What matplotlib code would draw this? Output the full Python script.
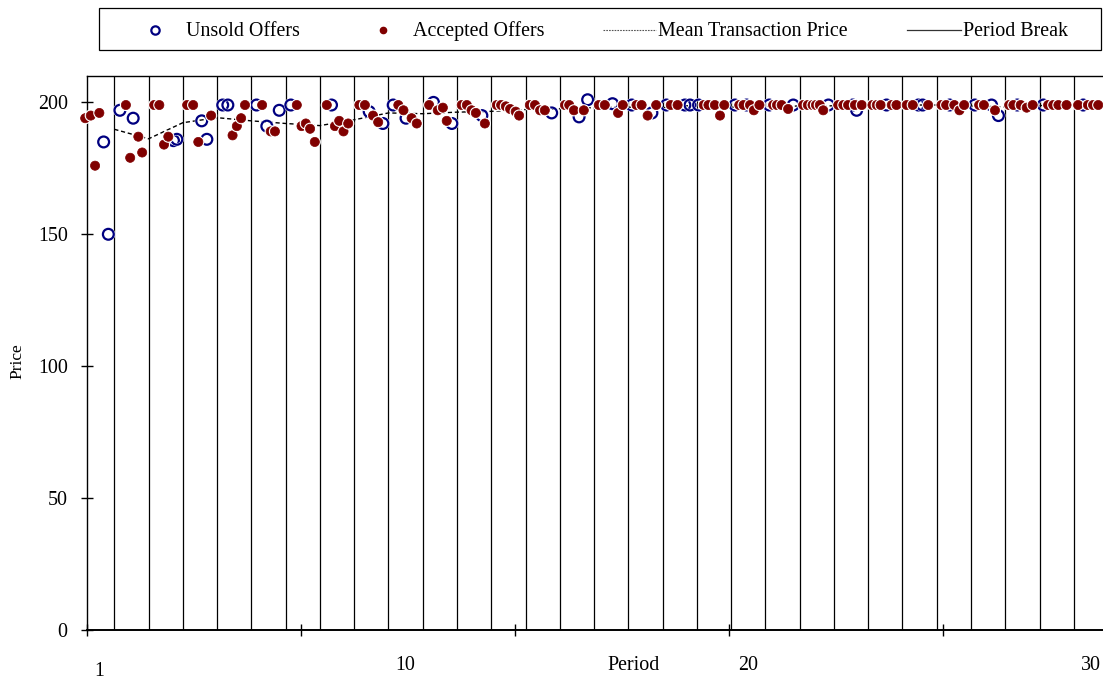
import matplotlib
matplotlib.use("Agg")
import matplotlib.pyplot as plt
import matplotlib.patheffects as pe
import matplotlib.transforms as mtransforms
from matplotlib.lines import Line2D
from matplotlib.patches import Rectangle

plt.rcParams['font.family'] = ['Liberation Serif', 'DejaVu Serif']

# offer "time" on the x axis, price on the y axis
unsold_x = [4.0, 5.1, 7.8, 10.9, 20.3, 21.1, 26.9, 28.1, 31.8, 33.0, 39.7, 42.1,
            45.0, 47.7, 57.2, 66.0, 69.2, 71.6, 74.6, 81.0, 85.3, 92.3, 108.6,
            115.0, 117.0, 122.8, 127.3, 132.0, 135.4, 139.7, 140.9, 142.9, 151.4,
            154.1, 159.4, 165.0, 173.2, 178.9, 179.8, 186.8, 194.2, 195.2, 201.5,
            207.4, 211.3, 212.9, 217.3, 223.4, 232.7]
unsold_price = [185, 150, 197, 194, 185.5, 186, 193, 186, 199, 199, 199, 191,
                197, 199, 199, 196.5, 192, 199, 194, 200, 192, 195, 196,
                194.5, 201, 199.5, 199, 196, 199, 199, 199, 199, 199,
                199, 199, 199, 199, 199, 197, 199, 199, 199, 199,
                199, 199, 195, 199, 199, 199]

accepted_x = [-0.3, 1.0, 2.0, 3.0,
              9.2, 10.2, 12.1, 13.0,
              15.8, 17.0, 18.1, 19.1,
              23.5, 24.9, 26.1, 29.1,
              34.1, 35.1, 36.1, 37.0,
              41.0, 43.0, 44.0,
              49.1, 50.2, 51.2, 52.2, 53.3,
              56.1, 58.0, 59.0, 60.0, 61.1,
              63.7, 65.0, 66.9, 68.1,
              72.8, 74.0, 75.9, 77.1,
              80.0, 82.0, 83.2, 84.1,
              87.6, 88.8, 89.9, 90.9, 93.0,
              95.8, 96.8, 97.9, 98.9, 100.2, 101.0,
              103.5, 104.7, 105.9, 107.0,
              111.7, 112.7, 113.8, 116.1,
              119.6, 121.0, 124.1, 125.2,
              128.4, 129.6, 131.0, 133.0,
              136.4, 138.0,
              144.1, 145.2, 146.7, 147.9, 148.9,
              152.4, 153.4, 154.9, 155.8, 157.1,
              160.3, 161.2, 162.3, 163.8,
              167.3, 168.4, 169.5, 170.3, 171.2, 172.0,
              175.5, 176.7, 177.8, 179.4, 181.0,
              183.5, 184.5, 185.4, 188.0, 189.1,
              191.5, 192.9, 196.5,
              199.6, 200.7, 202.6, 203.8, 204.9,
              208.4, 209.5, 212.1,
              215.4, 216.4, 218.1, 219.5, 220.9,
              224.5, 225.7, 226.9, 228.8,
              231.5, 233.8, 235.0, 236.2]
accepted_price = [194, 195, 176, 196,
                  199, 179, 187, 181,
                  199, 199, 184, 187,
                  199, 199, 185, 195,
                  187.5, 191, 194, 199,
                  199, 189, 189,
                  199, 191, 192, 190, 185,
                  199, 191, 193, 189, 192,
                  199, 199, 195, 192.5,
                  199, 197, 194, 192,
                  199, 197, 198, 193,
                  199, 199, 197, 196, 192,
                  199, 199, 198.5, 197.5, 196.5, 195,
                  199, 199, 197, 197,
                  199, 199, 197, 197,
                  199, 199, 196, 199,
                  199, 199, 195, 199,
                  199, 199,
                  199, 199, 199, 195, 199,
                  199, 199, 199, 197, 199,
                  199, 199, 199, 197.5,
                  199, 199, 199, 199, 199, 197,
                  199, 199, 199, 199, 199,
                  199, 199, 199, 199, 199,
                  199, 199, 199,
                  199, 199, 199, 197, 199,
                  199, 199, 197,
                  199, 199, 199, 198, 199,
                  199, 199, 199, 199,
                  199, 199, 199, 199]

# end of each trading period on the x axis
period_ends = [6.5, 14.5, 22.5, 30.5, 38.5, 46.5, 54.5, 62.5, 70.5, 78.5,
               86.5, 94.5, 102.5, 110.5, 118.5, 126.5, 134.5, 142.5, 150.5, 158.5,
               166.5, 174.5, 182.5, 190.5, 198.5, 206.5, 214.5, 222.5, 230.5, 238.5]
mean_price = [189.8, 186.2, 192.3, 194.2, 193.0, 192.0, 191.2, 193.4, 196.0, 195.7,
              196.3, 196.6, 197.3, 197.6, 198.0, 198.2, 198.0, 199.0, 198.2, 198.6,
              198.6, 198.7, 199.0, 199.0, 199.0, 198.6, 198.3, 198.8, 199.0, 199.0]
period_labels = {1: "1", 10: "10", 20: "20", 30: "30"}

BLUE = '#000080'
RED = '#800000'
W, H = 1103, 683

fig = plt.figure(figsize=(W / 100, H / 100), dpi=100)
ax = fig.add_axes([86.5 / W, 53 / H, (1114.5 - 86.5) / W, (630 - 76) / H])
ax.set_xlim(0, 240)
ax.set_ylim(0, 210)

# period breaks
for xb in period_ends[:-1]:
    ax.axvline(xb, color='black', lw=0.9, zorder=1)

ax.plot(period_ends, mean_price, color='black', lw=1.0, ls=(0, (3, 2)), zorder=2)

halo = [pe.withStroke(linewidth=2.2, foreground='white')]
ax.plot(unsold_x, unsold_price, ls='none', marker='o', ms=7.8, mfc='none',
        mec=BLUE, mew=1.6, path_effects=halo, zorder=3, clip_on=False)
ax.plot(accepted_x, accepted_price, ls='none', marker='o', ms=6.6, mfc=RED,
        mec=RED, mew=0.5, path_effects=halo, zorder=4, clip_on=False)

ax.spines['right'].set_visible(False)
for side in ['left', 'top']:
    ax.spines[side].set_linewidth(1.0)
ax.spines['bottom'].set_linewidth(1.4)

ax.set_yticks([0, 50, 100, 150, 200])
ax.set_xticks([0, 50, 100, 150, 200])
ax.set_xticklabels([])
ax.tick_params(axis='y', direction='inout', length=8, width=1, labelsize=14.4, pad=9.5)
ax.tick_params(axis='x', direction='inout', length=8, width=1)

# period numbers under the axis, at the centre of each period
blend = mtransforms.blended_transform_factory(ax.transData, fig.transFigure)
for p, lab in period_labels.items():
    xc = period_ends[p - 1] - 4
    ypx = 672 if p == 1 else 666
    ax.text(xc + (0.5 if p == 1 else 0), 1 - ypx / H, lab, transform=blend,
            ha='center', va='center', fontsize=14.4, clip_on=False)
ax.text(127.6, 1 - 666 / H, "Period", transform=blend, ha='center', va='center',
        fontsize=14.4, clip_on=False)

fig.text(17 / W, 1 - 361 / H, "Price", rotation=90, ha='center', va='center',
         fontsize=12.5)

# legend box drawn by hand
fig.patches.append(Rectangle((99 / W, 1 - 50 / H), (1101 - 99) / W, 42 / H,
                             transform=fig.transFigure, fill=False,
                             edgecolor='black', lw=0.9))
ly = 1 - 30 / H
fig.lines.append(Line2D([155 / W], [ly], transform=fig.transFigure, ls='none',
                        marker='o', ms=6, mfc='none', mec=BLUE, mew=1.6))
fig.lines.append(Line2D([383 / W], [ly], transform=fig.transFigure, ls='none',
                        marker='o', ms=4.5, mfc=RED, mec=RED))
fig.lines.append(Line2D([603 / W, 656 / W], [ly, ly], transform=fig.transFigure,
                        color='#555555', lw=0.8, ls=(0, (1.5, 1))))
fig.lines.append(Line2D([907 / W, 961 / W], [ly, ly], transform=fig.transFigure,
                        color='#333333', lw=0.9))
for xt, lab in [(186, "Unsold Offers"), (413, "Accepted Offers"),
                (658, "Mean Transaction Price"), (963, "Period Break")]:
    fig.text(xt / W, 1 - 31 / H, lab, ha='left', va='center', fontsize=14.4)

fig.savefig("out.png", dpi=100)
